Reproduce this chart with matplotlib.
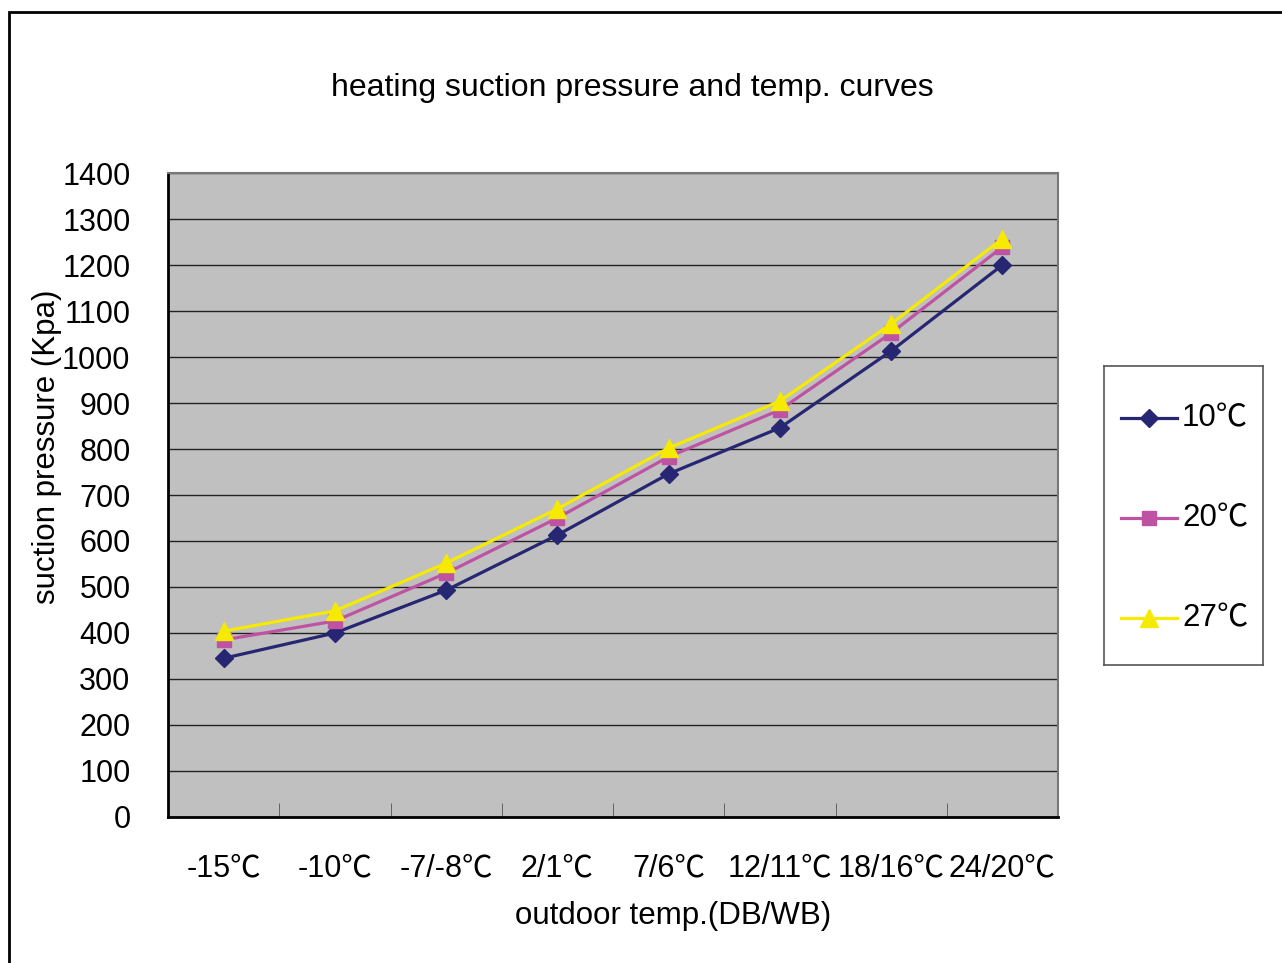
import numpy as np
import matplotlib.pyplot as plt
from matplotlib.lines import Line2D
from matplotlib.patches import Rectangle

plt.rcParams['font.family'] = ['Liberation Sans', 'Noto Sans CJK SC', 'DejaVu Sans']

categories = ['-15℃', '-10℃', '-7/-8℃', '2/1℃', '7/6℃', '12/11℃', '18/16℃', '24/20℃']
p_10 = [345, 400, 493, 613, 746, 846, 1013, 1200]
p_20 = [385, 426, 530, 650, 783, 885, 1052, 1239]
p_27 = [404, 448, 552, 670, 802, 904, 1072, 1257]
series_names = ['10℃', '20℃', '27℃']

styles = [dict(color='#262673', marker='D', markersize=9.5),
          dict(color='#bf53a3', marker='s', markersize=10),
          dict(color='#f5ea00', marker='^', markersize=12.5)]

fig = plt.figure(figsize=(12.82, 9.63), dpi=100)
# outer frame around the chart
fig.patches.append(Rectangle((9 / 1282, -0.05), 1.1, 1 - 12 / 963 + 0.05,
                             transform=fig.transFigure, fill=False,
                             edgecolor='black', linewidth=2))

ax = fig.add_axes([168 / 1282, 1 - 817 / 963, (1058 - 168) / 1282, (817 - 173) / 963])
ax.set_facecolor('#c0c0c0')

x = np.arange(len(categories))
for vals, st, name in zip([p_10, p_20, p_27], styles, series_names):
    ax.plot(x, vals, linewidth=2.3, label=name, **st)

ax.set_xlim(-0.5, len(categories) - 0.5)
ax.set_ylim(0, 1400)
ax.set_yticks(np.arange(0, 1401, 100))
ax.yaxis.grid(True, color='#222222', linewidth=1)
ax.set_axisbelow(True)

ax.set_xticks(x)
ax.set_xticklabels(categories, fontsize=22)
ax.tick_params(axis='x', length=0, pad=26)
ax.set_xticks(np.arange(0.5, len(categories) - 0.5, 1), minor=True)
ax.tick_params(axis='x', which='minor', direction='in', length=10, color='#555555')
ax.tick_params(axis='y', labelsize=22, length=0, pad=27)

for side in ['top', 'right']:
    ax.spines[side].set_color('#777777')
    ax.spines[side].set_linewidth(1.5)
for side in ['left', 'bottom']:
    ax.spines[side].set_color('black')
    ax.spines[side].set_linewidth(2)

fig.text(673 / 1282, 1 - 916 / 963, 'outdoor temp.(DB/WB)', ha='center', va='center', fontsize=22.5)
fig.text(47 / 1282, 1 - 447 / 963, 'suction pressure (Kpa)', rotation=90,
         ha='center', va='center', fontsize=22.5)
fig.text(632 / 1282, 1 - 88 / 963, 'heating suction pressure and temp. curves',
         ha='center', va='center', fontsize=23)

# legend box on the right
lax = fig.add_axes([1104 / 1282, 1 - 665 / 963, (1263 - 1104) / 1282, (665 - 366) / 963])
lax.set_xlim(0, 159)
lax.set_ylim(299, 0)
lax.set_xticks([])
lax.set_yticks([])
for sp in lax.spines.values():
    sp.set_color('#555555')
    sp.set_linewidth(1.2)
for i, (st, name) in enumerate(zip(styles, series_names)):
    yy = 52 + 100 * i
    lax.add_line(Line2D([17, 73], [yy, yy], linewidth=2.3, color=st['color']))
    lax.plot([45], [yy], linestyle='none', **st)
    lax.text(78, yy, name, ha='left', va='center', fontsize=22.5)

fig.savefig('out.png', dpi=100)
